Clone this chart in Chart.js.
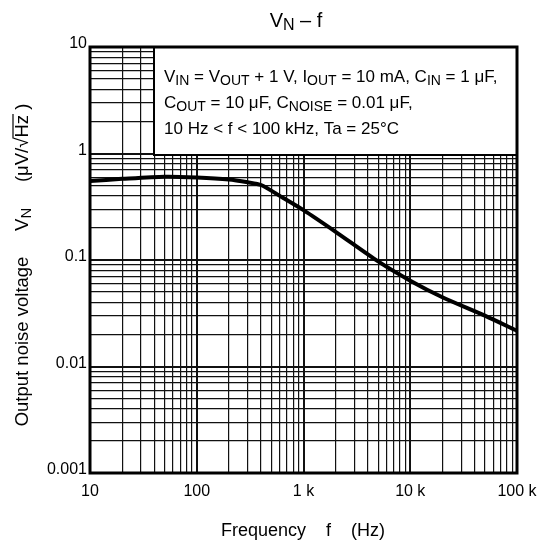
<!DOCTYPE html>
<html>
<head>
<meta charset="utf-8">
<script src="https://cdn.jsdelivr.net/npm/chart.js@4.4.1/dist/chart.umd.min.js"></script>
<style>
  html, body { margin: 0; padding: 0; background: #fff; }
</style>
</head>
<body>
<canvas id="noiseChart" width="537" height="557"></canvas>
<script>
// Noise curve
const freqHz = [10, 20, 50, 100, 200, 300, 400, 600, 1000, 2000, 5000, 10000, 20000, 50000, 100000];
const noiseUv = [0.552, 0.578, 0.606, 0.596, 0.571, 0.537, 0.506, 0.40, 0.294, 0.184, 0.097, 0.064, 0.0447, 0.030, 0.0216];

// Decade tick labels
const xDecades = [10, 100, 1000, 10000, 100000];
const xTickLabels = ['10', '100', '1 k', '10 k', '100 k'];
const yDecades = [0.001, 0.01, 0.1, 1, 10];
const yTickLabels = ['0.001', '0.01', '0.1', '1', '10'];

const FONT = 'Liberation Sans, Arial, Helvetica, sans-serif';

function isDecade(v) {
    const l = Math.log10(v);
    return Math.abs(l - Math.round(l)) < 1e-6;
}

function decadeLabel(value, decades, labels) {
    for (let i = 0; i < decades.length; i++) {
        if (Math.abs(value / decades[i] - 1) < 1e-6) return labels[i];
    }
    return '';
}

// 1..9 lines in every decade for the log grid
function logGridTicks(decades) {
    const ticks = [];
    for (let i = 0; i < decades.length - 1; i++) {
        for (let m = 1; m <= 9; m++) ticks.push({ value: m * decades[i] });
    }
    ticks.push({ value: decades[decades.length - 1] });
    return ticks;
}

// draws a run of [text, isSubscript] pieces starting at x
function drawRun(ctx, parts, x, y, size) {
    parts.forEach(function(p) {
        const sub = p[1];
        ctx.font = (sub ? Math.round(size * 0.82) : size) + 'px ' + FONT;
        ctx.fillText(p[0], x, sub ? y + 3 : y);
        x += ctx.measureText(p[0]).width;
    });
    return x;
}

function runWidth(ctx, parts, size) {
    let w = 0;
    parts.forEach(function(p) {
        ctx.font = (p[1] ? Math.round(size * 0.82) : size) + 'px ' + FONT;
        w += ctx.measureText(p[0]).width;
    });
    return w;
}

const textPlugin = {
    id: 'textPlugin',
    beforeDatasetsDraw(chart) {
        const ctx = chart.ctx;
        const a = chart.chartArea;
        // conditions box covering the top right of the grid
        ctx.save();
        ctx.fillStyle = '#fff';
        ctx.strokeStyle = '#000';
        ctx.lineWidth = 2;
        ctx.fillRect(154, a.top, a.right - 154, 108);
        ctx.strokeRect(154, a.top, a.right - 154, 108);
        ctx.fillStyle = '#000';
        ctx.textBaseline = 'alphabetic';
        ctx.textAlign = 'left';
        drawRun(ctx, [['V', 0], ['IN', 1], [' = V', 0], ['OUT', 1], [' + 1 V, I', 0], ['OUT', 1],
            [' = 10 mA, C', 0], ['IN', 1], [' = 1 \u03bcF,', 0]], 164, 82, 17);
        drawRun(ctx, [['C', 0], ['OUT', 1], [' = 10 \u03bcF, C', 0], ['NOISE', 1], [' = 0.01 \u03bcF,', 0]], 164, 108, 17);
        drawRun(ctx, [['10 Hz < f < 100 kHz, Ta = 25\u00b0C', 0]], 164, 134, 17);
        ctx.restore();
    },
    afterDraw(chart) {
        const ctx = chart.ctx;
        const a = chart.chartArea;
        ctx.save();
        // heavy frame
        ctx.strokeStyle = '#000';
        ctx.lineWidth = 3;
        ctx.strokeRect(a.left, a.top, a.right - a.left, a.bottom - a.top);

        ctx.fillStyle = '#000';
        ctx.textBaseline = 'alphabetic';
        ctx.textAlign = 'left';

        // title
        const title = [['V', 0], ['N', 1], [' \u2013 f', 0]];
        drawRun(ctx, title, 296 - runWidth(ctx, title, 20) / 2, 27, 20);

        // x axis title
        ctx.font = '18px ' + FONT;
        ctx.textAlign = 'center';
        ctx.fillText('Frequency    f    (Hz)', 303, 536);

        // y axis title, rotated
        ctx.translate(28, 265);
        ctx.rotate(-Math.PI / 2);
        ctx.textAlign = 'left';
        const size = 18.5;
        const p1 = [['Output noise voltage     V', 0], ['N', 1], ['     (\u03bcV/', 0]];
        ctx.font = size + 'px ' + FONT;
        const wHz = ctx.measureText('Hz').width;
        const wRoot = ctx.measureText('\u221a').width;
        const wEnd = ctx.measureText(' )').width;
        const total = runWidth(ctx, p1, size) + wRoot + wHz + wEnd;
        let x = drawRun(ctx, p1, -total / 2, 0, size);
        ctx.font = size + 'px ' + FONT;
        ctx.fillText('\u221a', x, 0);
        x += wRoot;
        ctx.fillText('Hz', x, 0);
        ctx.lineWidth = 1.2;
        ctx.beginPath();
        ctx.moveTo(x - 1, -15);
        ctx.lineTo(x + wHz + 1, -15);
        ctx.stroke();
        x += wHz;
        ctx.fillText(' )', x, 0);
        ctx.restore();
    }
};

function createNoiseChart() {
    const ctx = document.getElementById('noiseChart').getContext('2d');
    const points = freqHz.map(function(f, i) { return { x: f, y: noiseUv[i] }; });

    window.noiseChart = new Chart(ctx, {
        type: 'line',
        data: {
            datasets: [{
                data: points,
                borderColor: '#000',
                borderWidth: 4,
                pointRadius: 0,
                tension: 0.25,
                fill: false
            }]
        },
        options: {
            responsive: false,
            animation: false,
            layout: { padding: { top: 47, right: 20, left: 0, bottom: 0 } },
            plugins: { legend: { display: false }, tooltip: { enabled: false }, title: { display: false } },
            scales: {
                x: {
                    type: 'logarithmic',
                    min: 10,
                    max: 100000,
                    afterBuildTicks: function(scale) { scale.ticks = logGridTicks(xDecades); },
                    afterFit: function(scale) {
                        scale.height = 84;
                        // keep the last label from pushing the plot inwards
                        scale.paddingRight = 0;
                        scale.paddingLeft = 0;
                    },
                    grid: {
                        color: '#111',
                        lineWidth: function(c) { return c.tick && isDecade(c.tick.value) ? 2 : 1.2; },
                        drawTicks: false
                    },
                    border: { display: false },
                    ticks: {
                        autoSkip: false,
                        maxRotation: 0,
                        padding: 9,
                        color: '#000',
                        font: { family: FONT, size: 16 },
                        callback: function(v) { return decadeLabel(v, xDecades, xTickLabels); }
                    }
                },
                y: {
                    type: 'logarithmic',
                    min: 0.001,
                    max: 10,
                    afterBuildTicks: function(scale) { scale.ticks = logGridTicks(yDecades); },
                    afterFit: function(scale) {
                        scale.width = 90;
                        scale.paddingTop = 0;
                        scale.paddingBottom = 0;
                    },
                    grid: {
                        color: '#111',
                        lineWidth: function(c) { return c.tick && isDecade(c.tick.value) ? 2 : 1.2; },
                        drawTicks: false
                    },
                    border: { display: false },
                    ticks: {
                        autoSkip: false,
                        padding: 3,
                        labelOffset: -3,
                        color: '#000',
                        font: { family: FONT, size: 16 },
                        callback: function(v) { return decadeLabel(v, yDecades, yTickLabels); }
                    }
                }
            }
        },
        plugins: [textPlugin]
    });
}

window.onload = function() {
    createNoiseChart();
};
</script>
</body>
</html>
